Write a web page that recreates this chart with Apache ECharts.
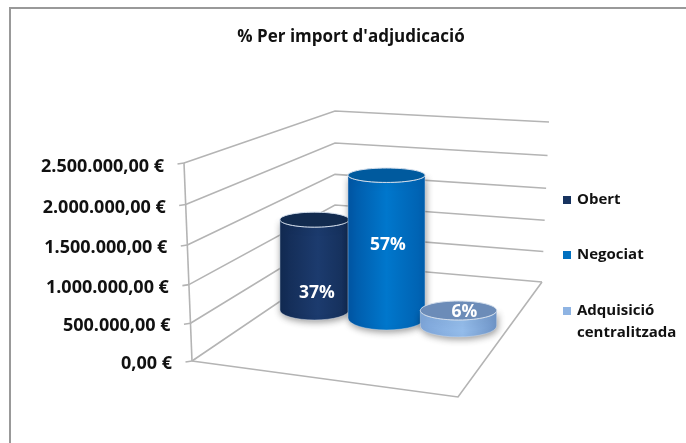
<!DOCTYPE html>
<html><head><meta charset="utf-8">
<style>html,body{margin:0;padding:0;background:#fff}#c{width:686px;height:443px}</style>
<script src="https://cdn.jsdelivr.net/npm/echarts@6/dist/echarts.min.js"></script>
</head><body><div id="c"></div>
<script>
const titleText = "% Per import d'adjudicació";
const categories = ['Obert', 'Negociat', 'Adquisició centralitzada'];
const amounts = [1350000, 2080000, 220000];
const shares = ['37%', '57%', '6%'];
const yTicks = [0, 500000, 1000000, 1500000, 2000000, 2500000];
const yTickLabels = ['0,00 €', '500.000,00 €', '1.000.000,00 €', '1.500.000,00 €', '2.000.000,00 €', '2.500.000,00 €'];

const FONT = '"Open Sans", Lato, sans-serif';
const LINE = '#b4b4b4';
const sideStops = [
  [['#122a52', 0], ['#1c3b6e', .55], ['#142e58', 1]],
  [['#0056a4', 0], ['#0077cc', .5], ['#005fae', 1]],
  [['#7ea6da', 0], ['#94bcea', .55], ['#6f95c8', 1]]
];
const topFill = ['#122b4f', '#005a9e', '#6c8cb8'];
const rxFactor = [.48, .535, .53];
const ryTop = [7.5, 7.2, 9.5];
const ryBase = [10, 12, 11];
const labelOffset = [[2.5, 73], [1.5, 70], [6, 1.5]];

const lerp = (a, b, t) => a + (b - a) * t;
const corners = { L: [[192, 361], [184, 163]], B: [[335, 264], [335, 111]], R: [[542, 282], [549, 122]] };
const wallPoint = (c, t) => {
  const w = t - .06 * t * (1 - t);
  return [lerp(c[0][0], c[1][0], w), lerp(c[0][1], c[1][1], w)];
};

function renderWall(params, api) {
  const y0 = api.coord([0, 0])[1], yTop = api.coord([0, yTicks[yTicks.length - 1]])[1];
  const t = (y0 - api.coord([0, api.value(1)])[1]) / (y0 - yTop);
  const l = wallPoint(corners.L, t), b = wallPoint(corners.B, t), r = wallPoint(corners.R, t);
  const st = { stroke: LINE, lineWidth: 1.6, fill: null };
  const kids = [
    { type: 'polyline', shape: { points: [l, b, r] }, style: st },
    { type: 'line', shape: { x1: l[0] - 6.5, y1: l[1] + 1, x2: l[0], y2: l[1] }, style: st },
    { type: 'text', style: { text: yTickLabels[params.dataIndex], x: l[0] - 20, y: l[1] + 2.5 + t,
      align: 'right', verticalAlign: 'middle', font: 'bold 18px ' + FONT, fill: '#111' } }
  ];
  if (params.dataIndex === 0) {
    const f = [458, 397];
    kids.push({ type: 'polyline', shape: { points: [l, f, r] }, style: st });
    const lt = wallPoint(corners.L, 1);
    kids.push({ type: 'line', shape: { x1: l[0], y1: l[1], x2: lt[0], y2: lt[1] }, style: st });
  }
  return { type: 'group', children: kids };
}

function renderCylinder(params, api) {
  const i = api.value(0);
  const band = api.size([1, 0])[0];
  const cx = api.coord([i, 0])[0];
  const rx = band * rxFactor[i];
  const y0 = api.coord([i, 0])[1], yV = api.coord([i, api.value(1)])[1];
  const base = 310 + (cx - 314.5) * .111;
  const k = .845 + (cx - 314.5) * .0003;
  const top = base - (y0 - yV) * k;
  const a = ryTop[i], b = ryBase[i];
  const x0 = cx - rx, x1 = cx + rx;
  const side = `M${x0} ${top}L${x0} ${base}A${rx} ${b} 0 0 0 ${x1} ${base}L${x1} ${top}A${rx} ${a} 0 0 1 ${x0} ${top}Z`;
  const grad = { type: 'linear', x: 0, y: 0, x2: 1, y2: 0,
    colorStops: sideStops[i].map(c => ({ color: c[0], offset: c[1] })) };
  return { type: 'group', children: [
    { type: 'path', shape: { pathData: side }, style: { fill: grad, stroke: 'rgba(215,225,238,.55)', lineWidth: .8,
      shadowBlur: 7, shadowColor: 'rgba(0,0,0,.4)', shadowOffsetX: 1, shadowOffsetY: 2 } },
    { type: 'ellipse', shape: { cx, cy: top, rx, ry: a }, style: { fill: topFill[i], stroke: '#d3deec', lineWidth: 1 } },
    { type: 'text', style: { text: shares[i], x: cx + labelOffset[i][0], y: top + labelOffset[i][1], align: 'center',
      verticalAlign: 'middle', font: 'bold 17.5px ' + FONT, fill: '#fff' } }
  ] };
}

const option = {
  animation: false,
  backgroundColor: '#fff',
  title: { text: titleText, left: 346, top: 24, textAlign: 'center', textStyle: { fontFamily: FONT, fontWeight: 'bold', fontSize: 17, color: '#111' } },
  graphic: [{ type: 'polyline', shape: { points: [[10, 443], [10, 8], [686, 8]] }, style: { fill: null, stroke: '#999', lineWidth: 2 }, silent: true }],
  legend: [0, 1, 2].map(i => ({
    data: [categories[i]], orient: 'vertical', left: 558, top: [184, 239, 273][i], itemWidth: 8, itemHeight: 8, itemGap: 0,
    icon: 'rect', selectedMode: false,
    formatter: n => i === 2 ? '\nAdquisició\ncentralitzada' : n,
    textStyle: { fontFamily: FONT, fontWeight: 'bold', fontSize: 15, color: '#111', lineHeight: 22, padding: [0, 0, 0, 1] }
  })),
  grid: { left: 278.5, width: 216, top: 163, height: 198 },
  xAxis: { type: 'category', data: categories, show: false },
  yAxis: { type: 'value', min: 0, max: 2500000, interval: 500000, show: false },
  series: [
    { type: 'custom', name: 'eix', renderItem: renderWall, clip: false, silent: true, z: 1,
      data: yTicks.map(v => [0, v]), encode: { x: 0, y: 1 } },
    ...categories.map((c, i) => ({ type: 'custom', name: c, renderItem: renderCylinder, clip: false, z: 2 + i,
      itemStyle: { color: ['#17335f', '#0070c0', '#8fb4e3'][i] },
      data: [[i, amounts[i]]], encode: { x: 0, y: 1 } }))
  ]
};
echarts.init(document.getElementById('c'), null, { renderer: 'canvas' }).setOption(option);
</script></body></html>
